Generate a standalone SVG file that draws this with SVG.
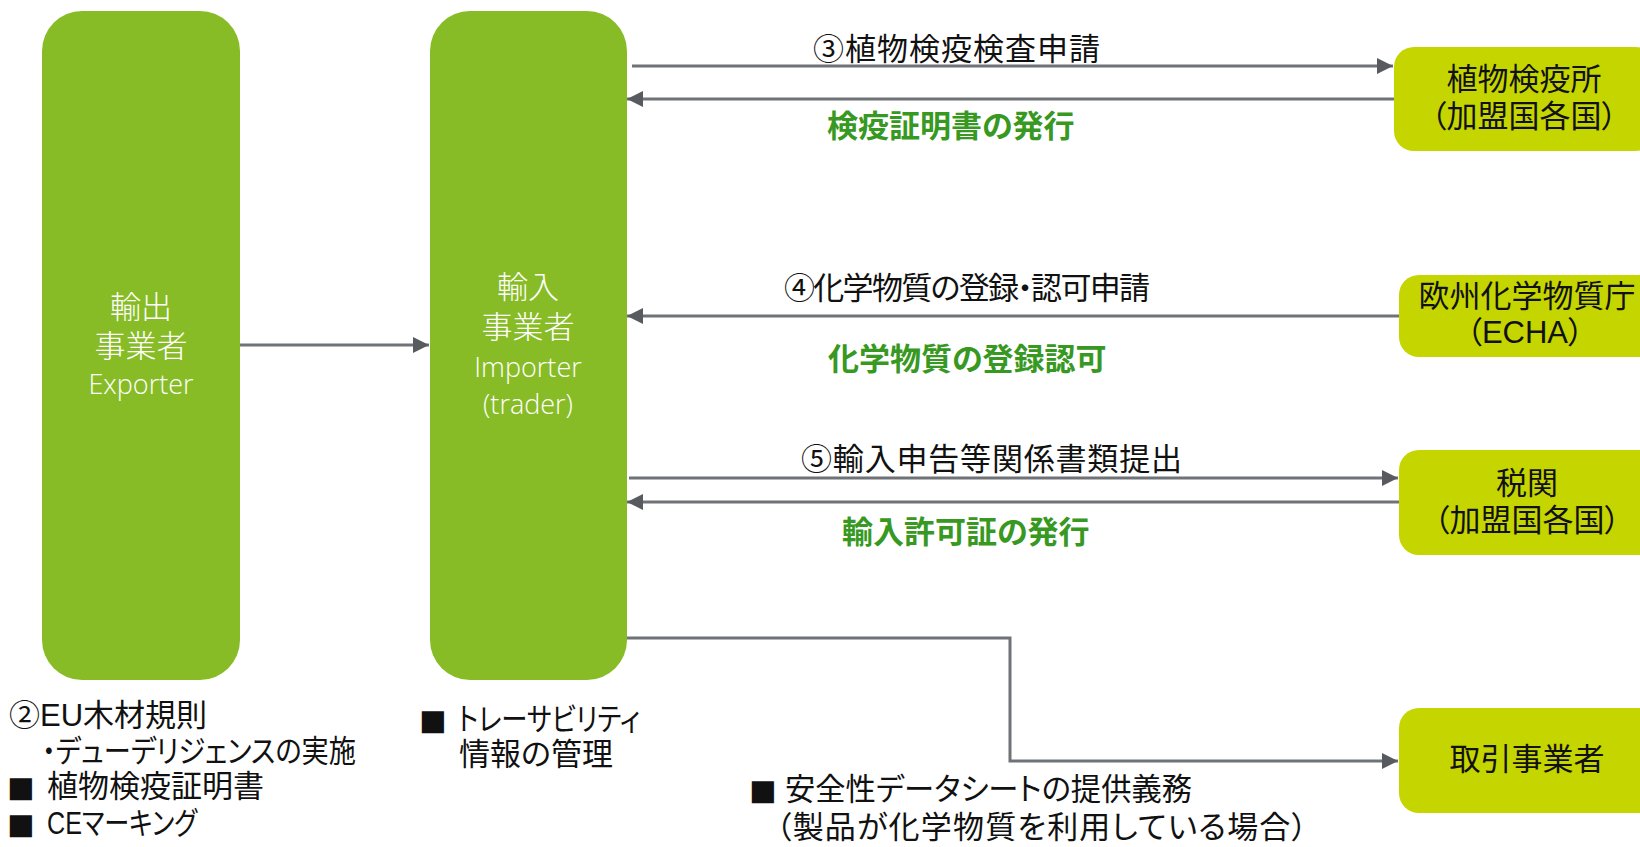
<svg xmlns="http://www.w3.org/2000/svg" width="1640" height="847" viewBox="0 0 1640 847">
<style>
text { font-family: "Liberation Sans", "Noto Sans CJK JP", sans-serif; font-feature-settings: "palt"; }
.lbl { font-size: 31px; fill: #111111; }
.grn { font-size: 31px; fill: #379822; font-weight: 700; }
.mid { text-anchor: middle; }
.sq { font-family: "DejaVu Sans", sans-serif; font-size: 29px; }
.wj { font-size: 31px; fill: #ffffff; font-weight: 300; text-anchor: middle; }
.we { font-family: "Open Sans", "Noto Sans", sans-serif; font-size: 27px; fill: #ffffff; font-weight: 300; text-anchor: middle; }
.main { fill: #87bc26; }
.side { fill: #c5d500; }
.con { fill: none; stroke: #6f7277; stroke-width: 3; }
</style>
<defs>
<marker id="ah" viewBox="0 0 16 16" refX="16" refY="8" markerWidth="16" markerHeight="16" markerUnits="userSpaceOnUse" orient="auto">
<path d="M0,0 L16,8 L0,16 z" fill="#575a5f"/>
</marker>
</defs>
<rect width="1640" height="847" fill="#ffffff"/>

<g id="exporter">
<rect class="main" x="42" y="11" width="198" height="669" rx="40" ry="40"/>
<text class="wj" x="141" y="318">輸出</text>
<text class="wj" x="141" y="357">事業者</text>
<text class="we" x="141" y="394">Exporter</text>
</g>

<g id="importer">
<rect class="main" x="430" y="11" width="197" height="669" rx="40" ry="40"/>
<text class="wj" x="528" y="298">輸入</text>
<text class="wj" x="528" y="338">事業者</text>
<text class="we" x="528" y="377">Importer</text>
<text class="we" x="528" y="414">(trader)</text>
</g>

<g id="plant-quarantine">
<rect class="side" x="1394" y="47" width="262" height="104" rx="20" ry="20"/>
<text class="lbl mid" x="1524" y="90">植物検疫所</text>
<text class="lbl mid" x="1524" y="127">（加盟国各国）</text>
</g>

<g id="echa">
<rect class="side" x="1399" y="275" width="262" height="82" rx="20" ry="20"/>
<text class="lbl mid" x="1527" y="307">欧州化学物質庁</text>
<text class="lbl mid" x="1525" y="343">（ECHA）</text>
</g>

<g id="customs">
<rect class="side" x="1399" y="450" width="262" height="105" rx="20" ry="20"/>
<text class="lbl mid" x="1527" y="494">税関</text>
<text class="lbl mid" x="1527" y="531">（加盟国各国）</text>
</g>

<g id="trader">
<rect class="side" x="1399" y="708" width="262" height="105" rx="20" ry="20"/>
<text class="lbl mid" x="1527" y="770">取引事業者</text>
</g>

<g id="connectors">
<line class="con" x1="240" y1="345" x2="429" y2="345" marker-end="url(#ah)"/>
<line class="con" x1="632" y1="66" x2="1393" y2="66" marker-end="url(#ah)"/>
<line class="con" x1="1394" y1="99" x2="627" y2="99" marker-end="url(#ah)"/>
<line class="con" x1="1399" y1="316" x2="627" y2="316" marker-end="url(#ah)"/>
<line class="con" x1="629" y1="478" x2="1398" y2="478" marker-end="url(#ah)"/>
<line class="con" x1="1399" y1="502" x2="627" y2="502" marker-end="url(#ah)"/>
<polyline class="con" points="627,638 1010,638 1010,761 1398,761" marker-end="url(#ah)"/>
</g>

<g id="connector-labels">
<text class="lbl" x="813" y="60" textLength="287" lengthAdjust="spacing">③植物検疫検査申請</text>
<text class="grn" x="827" y="137">検疫証明書の発行</text>
<text class="lbl" x="784" y="299" textLength="366" lengthAdjust="spacing">④化学物質の登録・認可申請</text>
<text class="grn" x="828" y="370">化学物質の登録認可</text>
<text class="lbl" x="801" y="470" textLength="381" lengthAdjust="spacing">⑤輸入申告等関係書類提出</text>
<text class="grn" x="842" y="543">輸入許可証の発行</text>
</g>

<g id="notes">
<text class="lbl" x="9" y="726">②EU木材規則</text>
<text class="lbl" x="42" y="762" textLength="314" lengthAdjust="spacingAndGlyphs">・デューデリジェンスの実施</text>
<text class="lbl" x="7" y="797"><tspan class="sq">■</tspan> <tspan x="47">植物検疫証明書</tspan></text>
<text class="lbl" x="7" y="834"><tspan class="sq">■</tspan> <tspan x="47" textLength="150" lengthAdjust="spacingAndGlyphs">CEマーキング</tspan></text>
<text class="lbl" x="419" y="730"><tspan class="sq">■</tspan> <tspan x="458" textLength="182" lengthAdjust="spacingAndGlyphs">トレーサビリティ</tspan></text>
<text class="lbl" x="459" y="765">情報の管理</text>
<text class="lbl" x="749" y="800"><tspan class="sq">■</tspan> <tspan x="785" textLength="407" lengthAdjust="spacingAndGlyphs">安全性データシートの提供義務</tspan></text>
<text class="lbl" x="776" y="838" textLength="531" lengthAdjust="spacing">（製品が化学物質を利用している場合）</text>
</g>
</svg>
